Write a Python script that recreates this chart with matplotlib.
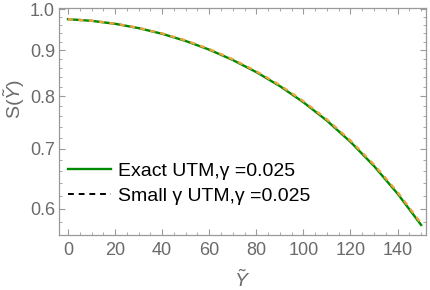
import numpy as np
import matplotlib.pyplot as plt
from matplotlib.lines import Line2D
from matplotlib.ticker import MultipleLocator, FixedLocator, NullFormatter

plt.rcParams['font.family'] = ['Liberation Sans', 'DejaVu Sans']
plt.rcParams['mathtext.fontset'] = 'custom'
plt.rcParams['mathtext.rm'] = 'Liberation Sans'
plt.rcParams['mathtext.it'] = 'Liberation Sans:italic'

# values
y_tilde = [0, 10, 20, 30, 40, 50, 60, 70, 80, 90, 100, 110, 120, 130, 140, 150]
s_exact = [0.975, 0.9709, 0.9635, 0.9529, 0.9391, 0.9220, 0.9017, 0.8781,
           0.8513, 0.8213, 0.7880, 0.7517, 0.7120, 0.6692, 0.6235, 0.5755]
s_small = [0.975, 0.9711, 0.9639, 0.9535, 0.9400, 0.9232, 0.9031, 0.8797,
           0.8531, 0.8233, 0.7902, 0.7540, 0.7144, 0.6717, 0.6260, 0.5780]
x_ticks = [0, 20, 40, 60, 80, 100, 120, 140]
y_ticks = [0.6, 0.7, 0.8, 0.9, 1.0]
labels = ["Exact UTM,\u03b3 =0.025", "Small \u03b3 UTM,\u03b3 =0.025"]

gray = "#6a6a6a"
spine = "#9a9a9a"

fig = plt.figure(figsize=(4.31, 2.90), dpi=100)
ax = fig.add_axes([0.137, 0.19, 0.851, 0.782])

ax.plot(y_tilde, s_exact, color="#008a00", lw=1.7, zorder=2)
ax.plot(y_tilde, s_small, color="#eba23a", lw=1.7, ls=(0, (2.2, 2.2)), zorder=3)

ax.set_yscale("log")
ax.set_xlim(-3.8, 152)
ax.set_ylim(0.561, 1.003)

ax.xaxis.set_major_locator(FixedLocator(x_ticks))
ax.xaxis.set_minor_locator(MultipleLocator(5))
ax.yaxis.set_major_locator(FixedLocator(y_ticks))
ax.yaxis.set_minor_locator(FixedLocator(np.arange(0.56, 1.001, 0.02)))
ax.yaxis.set_major_formatter(plt.FuncFormatter(lambda v, p: f"{v:.1f}"))
ax.yaxis.set_minor_formatter(NullFormatter())

for s in ax.spines.values():
    s.set_color(spine)
    s.set_linewidth(0.9)
ax.tick_params(which="both", direction="in", top=True, right=True,
               color=spine, labelcolor=gray, labelsize=13)
ax.tick_params(which="major", length=4.5, width=0.8)
ax.tick_params(which="minor", length=2.5, width=0.6)
ax.tick_params(axis="x", pad=5)
ax.tick_params(axis="y", pad=3)

ax.set_xlabel(r"$\tilde{Y}$", fontsize=14, color=gray)
ax.set_ylabel(r"S($\tilde{Y}$)", fontsize=14, color=gray)
ax.yaxis.set_label_coords(-0.088, 0.6)
ax.xaxis.set_label_coords(0.5, -0.15)

handles = [Line2D([], [], color="#008a00", lw=1.7),
           Line2D([], [], color="black", lw=1.4, ls=(0, (3, 2.5)))]
ax.legend(handles, labels, loc="upper left", bbox_to_anchor=(-0.008, 0.37),
          frameon=False, fontsize=14, handlelength=2.2, handletextpad=0.36,
          labelspacing=0.35, borderaxespad=0.2)

fig.savefig("out.png", dpi=100)
